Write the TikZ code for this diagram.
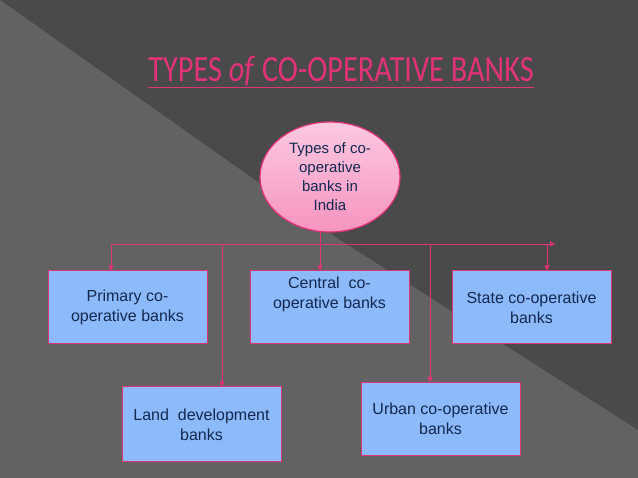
\documentclass[tikz,border=0pt]{standalone}
\usepackage{fontspec}
\setmainfont{Liberation Sans}
\newfontfamily\titlefont{Carlito}
\usetikzlibrary{shapes.geometric,arrows.meta}
\definecolor{bgdark}{RGB}{74,74,74}
\definecolor{bglight}{RGB}{98,98,98}
\definecolor{linkpink}{RGB}{226,50,120}
\definecolor{boxblue}{RGB}{140,186,250}
\definecolor{inkblue}{RGB}{20,40,80}
\definecolor{ovalpink}{RGB}{250,165,205}
\tikzset{
  bank/.style={draw=linkpink,fill=boxblue,line width=1pt,minimum width=159pt,
    minimum height=73pt,align=center,text=inkblue,font=\fontsize{16}{20}\selectfont},
  link/.style={draw=linkpink,line width=0.9pt,-{Triangle[length=5pt,width=5pt]}}
}
\begin{document}
\begin{tikzpicture}[x=1pt,y=-1pt]
  \useasboundingbox (0,0) rectangle (638,478);
  \fill[bgdark] (0,0) rectangle (638,478);
  \fill[bglight] (0,0) -- (0,478) -- (638,478) -- (638,430) -- (340,240) -- cycle;
  % title
  \node[xscale=0.82] (title) at (341,72) {\titlefont\color{linkpink}\fontsize{37}{40}\selectfont\underline{TYPES \textit{of} CO-OPERATIVE BANKS}};
  % root
  \node[ellipse,draw=linkpink,line width=1.2pt,top color=ovalpink!60!white,bottom color=ovalpink!85!linkpink,
    minimum width=140pt,minimum height=110pt,align=center,text=inkblue,
    font=\fontsize{15}{19}\selectfont] (root) at (330,177) {Types of co-\\operative\\banks in\\India};
  % banks
  \node[bank] (primary) at (127.5,307.5) {Primary co-\\operative banks};
  \node[bank] (central) at (329.5,307.5) {Central\ \ co-\\operative banks\\[10pt]};
  \node[bank] (state) at (531.5,307.5) {State co-operative\\banks};
  \node[bank,minimum height=75pt] (land) at (201.5,424.5) {Land\ \ development\\banks};
  \node[bank] (urban) at (440.5,419) {Urban co-operative\\banks};
  % connectors
  \coordinate (hub) at (320,244);
  \coordinate (busL) at (111,244);
  \coordinate (busR) at (555,244);
  \draw[draw=linkpink,line width=0.9pt] (320,232) -- (hub);
  \draw[link] (hub) -- (busR);
  \draw[link] (busL) -- (primary.north -| busL);
  \draw[draw=linkpink,line width=0.9pt] (hub) -- (busL);
  \draw[link] (hub) -- (hub |- central.north);
  \draw[link] (222,244) -- (land.north -| 222,0);
  \draw[link] (430,244) -- (urban.north -| 430,0);
  \draw[link] (547,244) -- (state.north -| 547,0);
\end{tikzpicture}
\end{document}
